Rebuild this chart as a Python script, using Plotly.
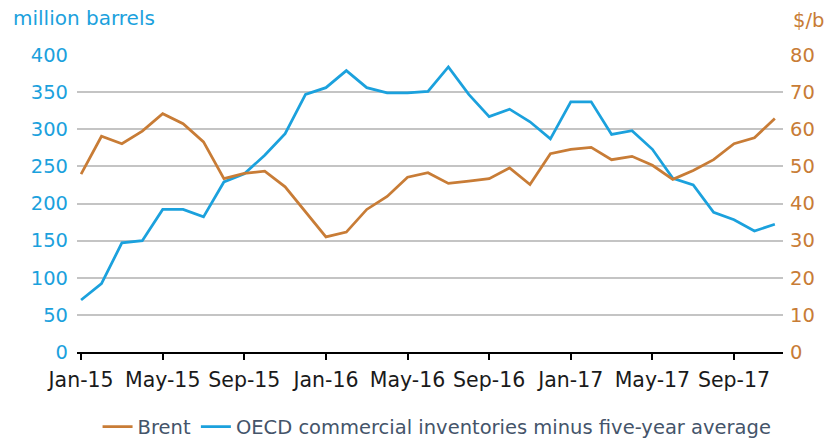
import plotly.graph_objects as go

months = ["Jan-15", "Feb-15", "Mar-15", "Apr-15", "May-15", "Jun-15", "Jul-15", "Aug-15",
          "Sep-15", "Oct-15", "Nov-15", "Dec-15", "Jan-16", "Feb-16", "Mar-16", "Apr-16",
          "May-16", "Jun-16", "Jul-16", "Aug-16", "Sep-16", "Oct-16", "Nov-16", "Dec-16",
          "Jan-17", "Feb-17", "Mar-17", "Apr-17", "May-17", "Jun-17", "Jul-17", "Aug-17",
          "Sep-17", "Oct-17", "Nov-17"]

brent = [47.9, 58.1, 56.1, 59.5, 64.2, 61.5, 56.6, 46.7, 48.1, 48.7, 44.5, 37.7, 31.0,
         32.3, 38.4, 41.9, 47.1, 48.3, 45.4, 46.0, 46.7, 49.6, 45.1, 53.4, 54.6, 55.1,
         51.8, 52.7, 50.3, 46.5, 48.9, 51.8, 56.1, 57.7, 62.9]

oecd = [70, 92, 147, 150, 192, 192, 182, 229, 240, 265, 294, 347, 356, 379, 356, 349,
        349, 351, 384, 347, 317, 327, 310, 287, 337, 337, 293, 298, 273, 234, 225, 188,
        178, 163, 172]

x_ticks = ["Jan-15", "May-15", "Sep-15", "Jan-16", "May-16", "Sep-16", "Jan-17", "May-17", "Sep-17"]
left_ticks = [0, 50, 100, 150, 200, 250, 300, 350, 400]
right_ticks = [0, 10, 20, 30, 40, 50, 60, 70, 80]

BLUE = "#1BA1DD"
ORANGE = "#C87C36"
FONT = "DejaVu Sans"

fig = go.Figure()
fig.add_trace(go.Scatter(x=months, y=brent, name="Brent", mode="lines",
                         line=dict(color=ORANGE, width=2.75), yaxis="y2"))
fig.add_trace(go.Scatter(x=months, y=oecd, name="OECD commercial inventories minus five-year average",
                         mode="lines", line=dict(color=BLUE, width=2.75), yaxis="y"))

fig.update_layout(
    width=827, height=440,
    margin=dict(l=77, r=44, t=55, b=88, autoexpand=False),
    paper_bgcolor="white", plot_bgcolor="white",
    font=dict(family=FONT, size=19),
    xaxis=dict(type="category", categoryorder="array", categoryarray=months,
               range=[-0.2, 34.4], tickmode="array", tickvals=x_ticks, ticktext=x_ticks,
               showgrid=False, showline=True, linecolor="black", linewidth=1.5,
               ticks="outside", ticklen=6, tickwidth=1.5, tickcolor="black",
               tickfont=dict(color="#1a1a1a", size=20.5, family=FONT), zeroline=False,
               ticklabelstandoff=3, automargin=False),
    yaxis=dict(range=[0, 400], tickvals=left_ticks, showgrid=True, gridcolor="#C4C4C4",
               gridwidth=1.5, zeroline=False, showline=False, automargin=False,
               tickfont=dict(color=BLUE, size=19.5, family=FONT), ticklabelstandoff=8),
    yaxis2=dict(range=[0, 80], tickvals=right_ticks, overlaying="y", side="right",
                showgrid=False, zeroline=False, showline=False, automargin=False,
                tickfont=dict(color=ORANGE, size=19.5, family=FONT), ticklabelstandoff=6),
    showlegend=True,
    legend=dict(orientation="h", x=0.51, xanchor="center", y=-0.2525, yanchor="middle",
                font=dict(color="#44546A", size=19.5, family=FONT), itemwidth=30,
                bgcolor="rgba(0,0,0,0)"),
    annotations=[
        dict(text="million barrels", xref="paper", yref="paper", x=0, y=1,
             xanchor="left", yanchor="middle", xshift=-66, yshift=37, showarrow=False,
             font=dict(color=BLUE, size=20, family=FONT)),
        dict(text="$/b", xref="paper", yref="paper", x=1, y=1,
             xanchor="left", yanchor="middle", xshift=8, yshift=35, showarrow=False,
             font=dict(color=ORANGE, size=19.5, family=FONT)),
    ],
)

fig.write_html("out.html", config={"displayModeBar": False},
               post_script="document.body.style.margin='0';document.body.style.padding='0';")
